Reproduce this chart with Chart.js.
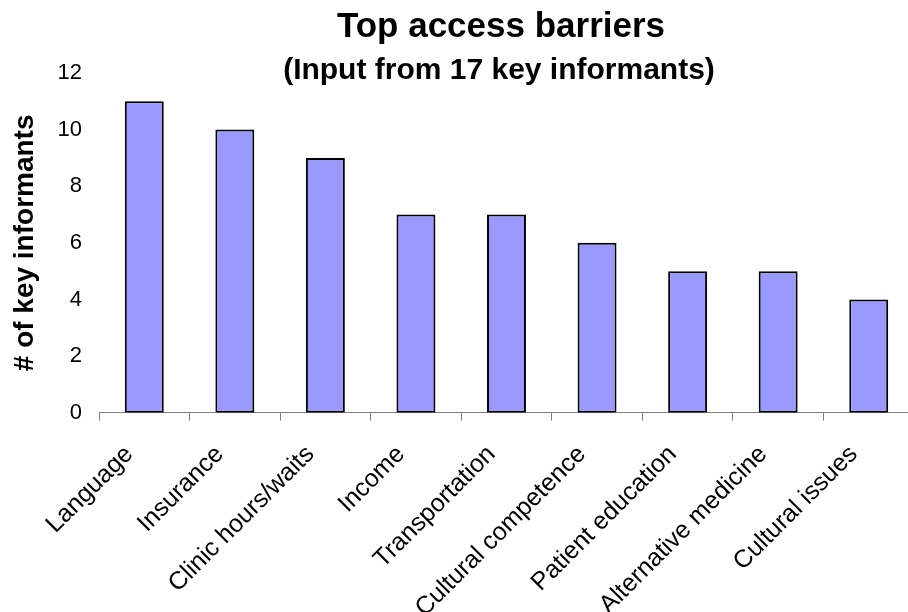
<!DOCTYPE html>
<html>
<head>
<meta charset="utf-8">
<script src="https://cdn.jsdelivr.net/npm/chart.js@4/dist/chart.umd.min.js"></script>
<style>
  html, body { margin: 0; padding: 0; overflow: hidden; background: #fff; }
  #wrap { position: relative; width: 914px; height: 612px; }
</style>
</head>
<body>
<div id="wrap"><canvas id="chart"></canvas></div>
<script>
const categories = [
  'Language', 'Insurance', 'Clinic hours/waits', 'Income', 'Transportation',
  'Cultural competence', 'Patient education', 'Alternative medicine', 'Cultural issues'
];
const informantCounts = [11, 10, 9, 7, 7, 6, 5, 5, 4];
const yTickValues = [0, 2, 4, 6, 8, 10, 12];
const titleText = 'Top access barriers';
const subtitleText = '(Input from 17 key informants)';
const yAxisTitle = '# of key informants';

const FONT = '"Liberation Sans", Arial, Helvetica, sans-serif';

// Two centered heading lines drawn above the plot
const headingPlugin = {
  id: 'heading',
  afterDraw(chart) {
    const ctx = chart.ctx;
    const lines = [
      { text: titleText, size: 35, x: 501, y: 37 },
      { text: subtitleText, size: 30, x: 499, y: 79 }
    ];
    ctx.save();
    ctx.fillStyle = '#000';
    ctx.textAlign = 'center';
    ctx.textBaseline = 'alphabetic';
    lines.forEach(l => {
      ctx.font = 'bold ' + l.size + 'px ' + FONT;
      ctx.fillText(l.text, l.x, l.y);
    });
    ctx.restore();
  }
};

new Chart(document.getElementById('chart'), {
  type: 'bar',
  data: {
    labels: categories,
    datasets: [{
      data: informantCounts,
      backgroundColor: '#9999FF',
      borderColor: '#000000',
      borderWidth: 2,
      borderSkipped: false,
      barPercentage: 0.43,
      categoryPercentage: 1.0
    }]
  },
  options: {
    responsive: true,
    maintainAspectRatio: false,
    animation: false,
    layout: { padding: { top: 73, left: 0, right: 0, bottom: 0 } },
    plugins: {
      legend: { display: false },
      tooltip: { enabled: false },
      title: { display: false }
    },
    scales: {
      y: {
        min: 0,
        max: 12,
        afterBuildTicks(scale) { scale.ticks = yTickValues.map(v => ({ value: v })); },
        afterFit(scale) { scale.width = 99; },
        grid: { display: false, drawTicks: false },
        border: { display: false },
        ticks: { color: '#000', padding: 17, font: { family: FONT, size: 22 } },
        title: {
          display: true,
          text: yAxisTitle,
          color: '#000',
          padding: { top: 8, bottom: 0 },
          font: { family: FONT, size: 28, weight: 'bold' }
        }
      },
      x: {
        afterFit(scale) { scale.height = 199.3; },
        grid: {
          display: true,
          offset: true,
          drawOnChartArea: false,
          drawTicks: true,
          tickLength: 8,
          color: '#808080',
          lineWidth: 1
        },
        border: { display: true, color: '#808080', width: 1 },
        ticks: {
          color: '#000',
          minRotation: 45,
          maxRotation: 45,
          autoSkip: false,
          padding: 19,
          labelOffset: -15,
          font: { family: FONT, size: 25 }
        }
      }
    }
  },
  plugins: [headingPlugin]
});
</script>
</body>
</html>
